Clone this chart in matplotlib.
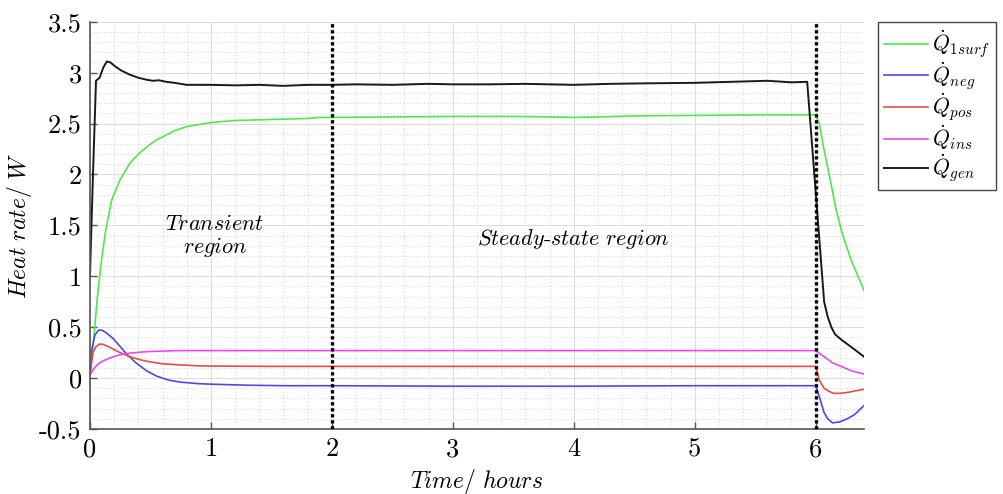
import matplotlib
matplotlib.use("Agg")
import matplotlib.pyplot as plt
from matplotlib.ticker import MultipleLocator, FuncFormatter

plt.rcParams["mathtext.fontset"] = "cm"
plt.rcParams["font.family"] = "serif"
plt.rcParams["font.serif"] = ["cmr10"]
plt.rcParams["axes.formatter.use_mathtext"] = True

# Heat rates (W) against time (hours)
t_gen = [0, 0.025, 0.05, 0.08, 0.11, 0.14, 0.17, 0.21, 0.26, 0.33, 0.40, 0.47, 0.52, 0.57,
         0.63, 0.70, 0.80, 1.0, 1.2, 1.4, 1.6, 1.8, 2.0, 2.2, 2.5, 2.8, 3.0, 3.3, 3.6, 4.0,
         4.3, 4.6, 5.0, 5.3, 5.6, 5.8, 5.93, 6.07, 6.10, 6.13, 6.16, 6.22, 6.30, 6.40]
q_gen = [1.0, 2.0, 2.92, 2.95, 3.05, 3.11, 3.10, 3.06, 3.02, 2.98, 2.95, 2.93, 2.92, 2.925,
         2.91, 2.90, 2.88, 2.88, 2.875, 2.88, 2.87, 2.88, 2.88, 2.885, 2.88, 2.89, 2.885,
         2.885, 2.89, 2.88, 2.89, 2.895, 2.90, 2.91, 2.92, 2.905, 2.91, 0.75, 0.60, 0.50,
         0.43, 0.37, 0.30, 0.21]

t_surf = [0, 0.02, 0.04, 0.06, 0.08, 0.10, 0.13, 0.18, 0.25, 0.33, 0.40, 0.47, 0.55, 0.62,
          0.70, 0.80, 0.90, 1.0, 1.2, 1.5, 1.8, 1.9, 2.0, 2.5, 3.0, 3.5, 3.8, 4.0, 4.2, 4.5,
          5.0, 5.5, 6.0, 6.03, 6.06, 6.09, 6.12, 6.17, 6.22, 6.29, 6.35, 6.40]
q_surf = [0.05, 0.25, 0.5, 0.78, 1.0, 1.2, 1.45, 1.75, 1.95, 2.11, 2.2, 2.27, 2.34, 2.38,
          2.43, 2.47, 2.49, 2.51, 2.53, 2.54, 2.55, 2.56, 2.56, 2.565, 2.57, 2.57, 2.565,
          2.56, 2.565, 2.575, 2.58, 2.585, 2.585, 2.5, 2.3, 2.12, 1.95, 1.65, 1.42, 1.17,
          1.0, 0.86]

t_neg = [0, 0.015, 0.04, 0.07, 0.10, 0.14, 0.19, 0.25, 0.30, 0.38, 0.47, 0.55, 0.65, 0.75,
         0.9, 1.0, 1.3, 1.6, 2.0, 3.0, 4.0, 5.0, 6.0, 6.03, 6.07, 6.10, 6.14, 6.20, 6.26,
         6.32, 6.40]
q_neg = [0.03, 0.28, 0.42, 0.47, 0.47, 0.44, 0.39, 0.31, 0.24, 0.15, 0.07, 0.02, -0.02,
         -0.04, -0.055, -0.06, -0.07, -0.075, -0.075, -0.08, -0.08, -0.075, -0.075, -0.18,
         -0.34, -0.40, -0.44, -0.43, -0.40, -0.36, -0.27]

t_pos = [0, 0.025, 0.05, 0.08, 0.11, 0.15, 0.19, 0.25, 0.33, 0.40, 0.47, 0.6, 0.74, 0.9,
         1.0, 1.5, 2.0, 3.0, 4.0, 5.0, 6.0, 6.03, 6.07, 6.11, 6.15, 6.20, 6.27, 6.33, 6.40]
q_pos = [0.03, 0.25, 0.31, 0.335, 0.33, 0.31, 0.285, 0.25, 0.21, 0.185, 0.165, 0.14, 0.13,
         0.12, 0.118, 0.115, 0.115, 0.115, 0.115, 0.115, 0.115, -0.02, -0.10, -0.13, -0.15,
         -0.15, -0.14, -0.125, -0.11]

t_ins = [0, 0.03, 0.07, 0.11, 0.18, 0.25, 0.33, 0.47, 0.6, 0.74, 1.0, 1.5, 2.0, 3.0, 4.0,
         5.0, 6.0, 6.07, 6.14, 6.21, 6.30, 6.40]
q_ins = [0.03, 0.09, 0.14, 0.17, 0.205, 0.23, 0.245, 0.26, 0.265, 0.27, 0.27, 0.27, 0.27,
         0.27, 0.27, 0.27, 0.27, 0.21, 0.15, 0.115, 0.07, 0.04]

region_bounds = [2, 6]

fig = plt.figure(figsize=(10.04, 4.94), dpi=100)
ax = fig.add_axes([0.0896, 0.1316, 0.771, 0.8244])

ax.plot(t_surf, q_surf, color="#4ee84e", lw=1.2, label=r"$\dot{Q}_{1surf}$")
ax.plot(t_neg, q_neg, color="#4b4be3", lw=1.2, label=r"$\dot{Q}_{neg}$")
ax.plot(t_pos, q_pos, color="#ea4a4a", lw=1.2, label=r"$\dot{Q}_{pos}$")
ax.plot(t_ins, q_ins, color="#e84ae8", lw=1.2, label=r"$\dot{Q}_{ins}$")
ax.plot(t_gen, q_gen, color="#1a1a1a", lw=1.4, label=r"$\dot{Q}_{gen}$")

for xb in region_bounds:
    ax.axvline(xb, color="black", lw=2.4, linestyle=(0, (1, 0.8)), zorder=5)

ax.text(1.03, 1.39, "$Transient$\n$region$", fontsize=16, ha="center", va="center",
        linespacing=1.1)
ax.text(4.0, 1.37, "$Steady$-$state\\ region$", fontsize=16, ha="center", va="center")

ax.set_xlim(0, 6.4)
ax.set_ylim(-0.5, 3.5)
ax.xaxis.set_major_locator(MultipleLocator(1))
ax.xaxis.set_minor_locator(MultipleLocator(0.2))
ax.yaxis.set_major_locator(MultipleLocator(0.5))
ax.yaxis.set_minor_locator(MultipleLocator(0.1))
ax.xaxis.set_major_formatter(FuncFormatter(lambda v, p: f"{v:g}"))
ax.yaxis.set_major_formatter(FuncFormatter(lambda v, p: f"{v:g}"))
ax.tick_params(which="major", direction="in", length=5, width=1, color="#555555",
               labelsize=19, pad=6)
ax.tick_params(which="minor", length=0)

ax.grid(which="major", color="#dddddd", lw=0.8, linestyle="-")
ax.grid(which="minor", color="#d4d4d4", lw=0.6, linestyle=(0, (1.5, 2.5)))
ax.set_axisbelow(True)

for side in ["top", "right"]:
    ax.spines[side].set_visible(False)
for side in ["left", "bottom"]:
    ax.spines[side].set_color("#555555")
    ax.spines[side].set_linewidth(1.2)

ax.set_xlabel("$Time/\\ hours$", fontsize=17, labelpad=4)
ax.set_ylabel("$Heat\\ rate/\\ W$", fontsize=17)
ax.yaxis.set_label_coords(-0.072, 0.5)

leg = fig.legend(loc="upper left", bbox_to_anchor=(0.8745, 0.956), fontsize=15.5,
                 frameon=True, fancybox=False, edgecolor="#444444", framealpha=1,
                 handlelength=2.0, labelspacing=0.0, borderpad=0.3, handletextpad=0.2,
                 borderaxespad=0)
leg.get_frame().set_linewidth(1.0)

fig.savefig("out.png", dpi=100)
